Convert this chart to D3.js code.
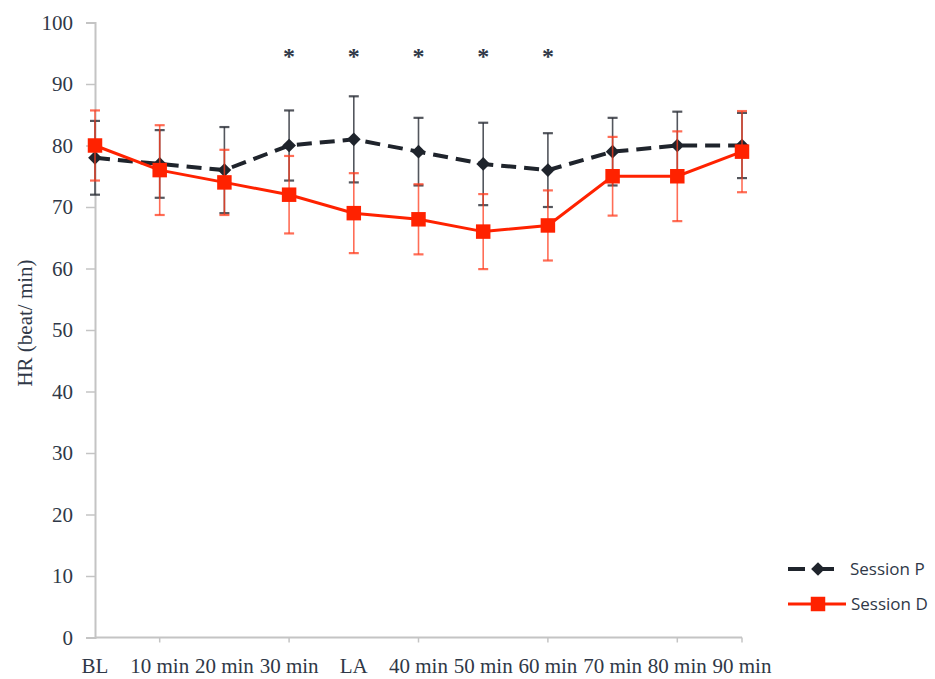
<!DOCTYPE html>
<html>
<head>
<meta charset="utf-8">
<script src="https://cdn.jsdelivr.net/npm/d3@7"></script>
<style>
    body { margin: 0; background: #fff; }
</style>
</head>
<body>
<div id="chart"></div>
<script>
// Chart data
const categories = ['BL', '10 min', '20 min', '30 min', 'LA', '40 min', '50 min', '60 min', '70 min', '80 min', '90 min'];
const sessionP = [78, 77, 76, 80, 81, 79, 77, 76, 79, 80, 80];
const sessionPsd = [6, 5.5, 7, 5.7, 7, 5.5, 6.7, 6, 5.5, 5.5, 5.3];
const sessionD = [80, 76, 74, 72, 69, 68, 66, 67, 75, 75, 79];
const sessionDsd = [5.7, 7.3, 5.3, 6.3, 6.5, 5.7, 6.1, 5.7, 6.4, 7.3, 6.6];
const significant = ['30 min', 'LA', '40 min', '50 min', '60 min'];
const yTicks = [0, 10, 20, 30, 40, 50, 60, 70, 80, 90, 100];
const xTickAt = ['10 min', '30 min', '40 min', '60 min', '80 min'];
const legendLabels = ['Session P', 'Session D'];

const width = 935;
const height = 679;
const serif = '"Liberation Serif", "DejaVu Serif", serif';
const sans = '"Open Sans", "Noto Sans", sans-serif';
const textColor = '#2f3847';
const axisColor = '#c4c4c4';
const black = '#1f242c';
const red = '#ff2200';

const svg = d3.select('#chart').append('svg')
    .attr('width', width)
    .attr('height', height);

const x = d3.scalePoint().domain(categories).range([95, 742]);
const y = d3.scaleLinear().domain([0, 100]).range([637.5, 22.5]);

// y axis
const yAxis = svg.append('g').attr('transform', 'translate(95,0)')
    .call(d3.axisLeft(y).tickValues(yTicks).tickSize(9).tickPadding(13));
yAxis.select('.domain').attr('stroke', axisColor).attr('stroke-width', 2);
yAxis.selectAll('.tick line').attr('stroke', axisColor).attr('stroke-width', 1.5);
yAxis.selectAll('.tick text')
    .attr('fill', textColor)
    .attr('font-family', serif)
    .attr('font-size', 21);

// x axis (line + ticks every other category)
const xAxis = svg.append('g').attr('transform', `translate(0,${y(0)})`);
xAxis.append('line')
    .attr('x1', x('BL')).attr('x2', x('90 min'))
    .attr('stroke', axisColor).attr('stroke-width', 2);
xAxis.selectAll('line.xtick')
    .data(xTickAt.concat(['90 min']))
    .join('line')
    .attr('class', 'xtick')
    .attr('x1', d => x(d)).attr('x2', d => x(d))
    .attr('y1', 0).attr('y2', 5)
    .attr('stroke', axisColor).attr('stroke-width', 1.5);
xAxis.selectAll('text')
    .data(categories)
    .join('text')
    .attr('x', d => x(d))
    .attr('y', 35)
    .attr('text-anchor', 'middle')
    .attr('fill', textColor)
    .attr('font-family', serif)
    .attr('font-size', 21)
    .text(d => d);

// y axis label
svg.append('text')
    .attr('transform', `translate(32,${(y(0) + y(100)) / 2 - 7}) rotate(-90)`)
    .attr('text-anchor', 'middle')
    .attr('fill', textColor)
    .attr('font-family', serif)
    .attr('font-size', 21)
    .text('HR (beat/ min)');

// Draw one series with error bars, line and markers
function drawSeries(values, sd, opts) {
    const g = svg.append('g');
    const rows = categories.map((c, i) => ({ c, v: values[i], sd: sd[i] }));

    const bars = g.selectAll('g.err').data(rows).join('g').attr('class', 'err')
        .attr('stroke', opts.errColor)
        .attr('stroke-width', 1.6);
    bars.append('line')
        .attr('x1', d => x(d.c)).attr('x2', d => x(d.c))
        .attr('y1', d => y(d.v - d.sd)).attr('y2', d => y(d.v + d.sd));
    bars.append('line')
        .attr('x1', d => x(d.c) - 5).attr('x2', d => x(d.c) + 5)
        .attr('y1', d => y(d.v - d.sd)).attr('y2', d => y(d.v - d.sd))
        .attr('stroke-width', 2.2);
    bars.append('line')
        .attr('x1', d => x(d.c) - 5).attr('x2', d => x(d.c) + 5)
        .attr('y1', d => y(d.v + d.sd)).attr('y2', d => y(d.v + d.sd))
        .attr('stroke-width', 2.2);

    g.append('path')
        .datum(rows)
        .attr('fill', 'none')
        .attr('stroke', opts.color)
        .attr('stroke-width', opts.lineWidth)
        .attr('stroke-dasharray', opts.dash)
        .attr('d', d3.line().x(d => x(d.c)).y(d => y(d.v)));

    g.selectAll('path.mark').data(rows).join('path')
        .attr('class', 'mark')
        .attr('transform', d => `translate(${x(d.c)},${y(d.v)})`)
        .attr('d', d3.symbol(opts.symbol, opts.size)())
        .attr('fill', opts.color);
}

drawSeries(sessionP, sessionPsd, {
    color: black, errColor: 'rgba(40,44,52,0.8)', lineWidth: 4, dash: '15,8',
    symbol: d3.symbolDiamond2, size: 120
});
drawSeries(sessionD, sessionDsd, {
    color: red, errColor: 'rgba(255,60,30,0.75)', lineWidth: 3, dash: null,
    symbol: d3.symbolSquare, size: 210
});

// significance asterisks
svg.selectAll('text.star')
    .data(significant)
    .join('text')
    .attr('class', 'star')
    .attr('x', d => x(d))
    .attr('y', 64)
    .attr('text-anchor', 'middle')
    .attr('fill', textColor)
    .attr('font-family', serif)
    .attr('font-weight', 'bold')
    .attr('font-size', 24)
    .text('*');

// legend
const legend = svg.append('g').attr('transform', 'translate(788,569)');
const items = legend.selectAll('g').data(legendLabels).join('g')
    .attr('transform', (d, i) => `translate(0,${i * 35})`);
items.append('line')
    .attr('x1', 0).attr('x2', (d, i) => i ? 58 : 47)
    .attr('stroke', (d, i) => i ? red : black)
    .attr('stroke-width', (d, i) => i ? 3 : 4)
    .attr('stroke-dasharray', (d, i) => i ? null : '17,12');
items.append('path')
    .attr('transform', 'translate(30,0)')
    .attr('d', (d, i) => d3.symbol(i ? d3.symbolSquare : d3.symbolDiamond2, i ? 210 : 120)())
    .attr('fill', (d, i) => i ? red : black);
items.append('text')
    .attr('x', (d, i) => i ? 63 : 62)
    .attr('y', 0)
    .attr('dy', '0.35em')
    .attr('fill', textColor)
    .attr('font-family', sans)
    .attr('font-size', 17)
    .text(d => d);
</script>
</body>
</html>
